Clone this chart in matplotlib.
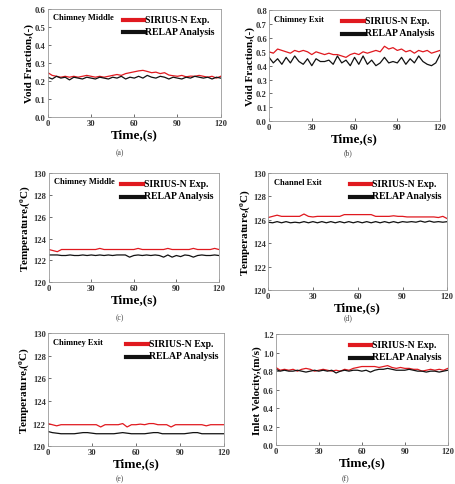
import numpy as np
import matplotlib.pyplot as plt

plt.rcParams['font.family'] = ['Liberation Serif', 'DejaVu Serif']
plt.rcParams['font.weight'] = 'bold'
plt.rcParams['mathtext.fontset'] = 'custom'
plt.rcParams['mathtext.rm'] = 'Liberation Serif:bold'
plt.rcParams['mathtext.it'] = 'Liberation Serif:bold'
plt.rcParams['mathtext.bf'] = 'Liberation Serif:bold'

t = list(range(0, 121, 3))

# (a) chimney middle void fraction
a_exp = [0.245, 0.23, 0.225, 0.22, 0.225, 0.22, 0.225, 0.22, 0.225, 0.23, 0.225, 0.22, 0.225, 0.22,
         0.225, 0.23, 0.235, 0.23, 0.24, 0.245, 0.25, 0.255, 0.258, 0.252, 0.245, 0.248, 0.24, 0.245,
         0.232, 0.228, 0.225, 0.23, 0.222, 0.226, 0.225, 0.23, 0.225, 0.22, 0.225, 0.215, 0.225]
a_rel = [0.22, 0.21, 0.225, 0.215, 0.22, 0.205, 0.22, 0.215, 0.21, 0.22, 0.215, 0.21, 0.22, 0.215,
         0.21, 0.22, 0.215, 0.225, 0.21, 0.22, 0.215, 0.225, 0.215, 0.23, 0.22, 0.215, 0.225, 0.22,
         0.21, 0.22, 0.215, 0.21, 0.22, 0.215, 0.225, 0.22, 0.215, 0.22, 0.21, 0.22, 0.215]
# (b) chimney exit void fraction
b_exp = [0.50, 0.49, 0.52, 0.51, 0.50, 0.49, 0.51, 0.50, 0.51, 0.50, 0.48, 0.50, 0.49, 0.48,
         0.49, 0.48, 0.48, 0.47, 0.46, 0.48, 0.49, 0.48, 0.50, 0.49, 0.50, 0.51, 0.50, 0.54,
         0.52, 0.53, 0.51, 0.52, 0.50, 0.51, 0.49, 0.51, 0.50, 0.51, 0.49, 0.50, 0.51]
b_rel = [0.46, 0.42, 0.45, 0.41, 0.46, 0.42, 0.47, 0.43, 0.41, 0.45, 0.40, 0.45, 0.43, 0.43,
         0.44, 0.41, 0.47, 0.42, 0.44, 0.40, 0.46, 0.41, 0.47, 0.41, 0.44, 0.40, 0.42, 0.46,
         0.42, 0.43, 0.42, 0.46, 0.41, 0.45, 0.42, 0.47, 0.43, 0.41, 0.40, 0.42, 0.48]
# (c) chimney middle temperature
c_exp = [123.0, 122.9, 122.8, 123.0, 123.0, 123.0, 123.0, 123.0, 123.0, 123.0, 123.0, 123.0, 123.1, 123.0,
         123.0, 123.0, 123.0, 123.0, 123.0, 123.0, 123.0, 123.1, 123.0, 123.0, 123.0, 123.0, 123.0, 123.0,
         123.1, 123.0, 123.0, 123.0, 123.0, 123.0, 123.1, 123.0, 123.0, 123.0, 123.0, 123.1, 123.0]
c_rel = [122.5, 122.5, 122.5, 122.45, 122.45, 122.5, 122.45, 122.45, 122.5, 122.45, 122.5, 122.45, 122.5, 122.45,
         122.5, 122.45, 122.5, 122.5, 122.5, 122.3, 122.45, 122.5, 122.45, 122.5, 122.45, 122.5, 122.45, 122.3,
         122.5, 122.3, 122.45, 122.35, 122.5, 122.45, 122.3, 122.45, 122.5, 122.45, 122.45, 122.5, 122.45]
# (d) channel exit temperature
d_exp = [126.2, 126.3, 126.4, 126.3, 126.3, 126.3, 126.3, 126.3, 126.5, 126.3, 126.25, 126.3, 126.3, 126.3,
         126.3, 126.3, 126.3, 126.45, 126.45, 126.45, 126.45, 126.45, 126.45, 126.45, 126.3, 126.3, 126.3, 126.3,
         126.35, 126.3, 126.3, 126.25, 126.25, 126.25, 126.25, 126.25, 126.25, 126.25, 126.2, 126.3, 126.1]
d_rel = [125.8, 125.75, 125.85, 125.75, 125.85, 125.75, 125.8, 125.75, 125.85, 125.75, 125.85, 125.75, 125.85, 125.75,
         125.85, 125.75, 125.85, 125.75, 125.85, 125.75, 125.85, 125.75, 125.85, 125.75, 125.85, 125.75, 125.85, 125.75,
         125.85, 125.75, 125.85, 125.8, 125.85, 125.8, 125.9, 125.8, 125.9, 125.8, 125.85, 125.8, 125.85]
# (e) chimney exit temperature
e_exp = [122.0, 121.9, 121.8, 121.9, 121.9, 121.9, 121.9, 121.9, 121.9, 121.9, 121.9, 121.9, 121.7, 121.9,
         121.9, 121.9, 121.9, 122.0, 121.7, 121.9, 121.9, 121.95, 121.9, 122.0, 122.0, 121.9, 121.9, 121.9,
         121.7, 121.9, 121.9, 121.9, 121.9, 121.9, 121.9, 121.9, 121.8, 121.9, 121.9, 121.9, 121.9]
e_rel = [121.3, 121.2, 121.15, 121.1, 121.1, 121.1, 121.1, 121.15, 121.2, 121.2, 121.15, 121.1, 121.1, 121.1,
         121.1, 121.1, 121.15, 121.2, 121.15, 121.1, 121.1, 121.1, 121.1, 121.15, 121.2, 121.2, 121.1, 121.1,
         121.1, 121.1, 121.1, 121.1, 121.15, 121.2, 121.2, 121.1, 121.1, 121.1, 121.1, 121.1, 121.1]
# (f) inlet velocity
f_exp = [0.84, 0.81, 0.82, 0.81, 0.82, 0.80, 0.82, 0.83, 0.82, 0.80, 0.81, 0.82, 0.81, 0.80,
         0.81, 0.80, 0.82, 0.81, 0.83, 0.84, 0.85, 0.85, 0.85, 0.85, 0.84, 0.85, 0.86, 0.84,
         0.83, 0.84, 0.83, 0.83, 0.82, 0.82, 0.80, 0.81, 0.82, 0.81, 0.82, 0.81, 0.83]
f_rel = [0.82, 0.80, 0.81, 0.80, 0.80, 0.81, 0.80, 0.79, 0.80, 0.81, 0.80, 0.81, 0.80, 0.81,
         0.78, 0.80, 0.81, 0.80, 0.81, 0.81, 0.80, 0.81, 0.79, 0.81, 0.82, 0.82, 0.83, 0.82,
         0.81, 0.81, 0.81, 0.82, 0.81, 0.80, 0.80, 0.79, 0.80, 0.80, 0.79, 0.80, 0.81]

xticks = [0, 30, 60, 90, 120]
temp_lbl = r'Temperature,($^{\mathrm{o}}$C)'

panels = [
    # rect, exp, rel, title, ylabel, ylim, yticks, yfmt, caption, caption xy
    ([0.105, 0.757, 0.379, 0.223], a_exp, a_rel, 'Chimney Middle', 'Void Fraction,(-)',
     (0, 0.6), np.arange(0, 0.61, 0.1), '{:.1f}', '(a)', (0.262, 0.675)),
    ([0.590, 0.748, 0.375, 0.229], b_exp, b_rel, 'Chimney Exit', 'Void Fraction,(-)',
     (0, 0.8), np.arange(0, 0.81, 0.1), '{:.1f}', '(b)', (0.763, 0.675)),
    ([0.107, 0.416, 0.373, 0.225], c_exp, c_rel, 'Chimney Middle', temp_lbl,
     (120, 130), np.arange(120, 131, 2), '{:.0f}', '(c)', (0.262, 0.336)),
    ([0.588, 0.400, 0.393, 0.241], d_exp, d_rel, 'Channel Exit', temp_lbl,
     (120, 130), np.arange(120, 131, 2), '{:.0f}', '(d)', (0.763, 0.336)),
    ([0.105, 0.078, 0.386, 0.233], e_exp, e_rel, 'Chimney Exit', temp_lbl,
     (120, 130), np.arange(120, 131, 2), '{:.0f}', '(e)', (0.262, 0.004)),
    ([0.605, 0.080, 0.377, 0.229], f_exp, f_rel, '', 'Inlet Velocity,(m/s)',
     (0, 1.2), np.arange(0, 1.21, 0.2), '{:.1f}', '(f)', (0.757, 0.004)),
]

fig = plt.figure(figsize=(4.56, 4.85), dpi=100)
for rect, ye, yr, title, ylab, ylim, yt, fmt, cap, cxy in panels:
    ax = fig.add_axes(rect)
    ax.plot(t, ye, color='#e0191f', lw=0.9, label='SIRIUS-N Exp.')
    ax.plot(t, yr, color='#111111', lw=0.9, label='RELAP Analysis')
    ax.set_xlim(0, 120)
    ax.set_ylim(*ylim)
    ax.set_xticks(xticks)
    ax.set_yticks(yt)
    ax.set_yticklabels([fmt.format(v) for v in yt])
    ax.tick_params(direction='in', length=2, width=0.5, labelsize=6.2, pad=1.5, colors='#333333')
    for s in ax.spines.values():
        s.set_color('#999999')
        s.set_linewidth(0.6)
    ax.set_xlabel('Time,(s)', fontsize=9.5, fontweight='bold', labelpad=1)
    ax.set_ylabel(ylab, fontsize=8, fontweight='bold', labelpad=1)
    if title:
        ax.text(0.03, 0.96, title, transform=ax.transAxes, fontsize=6, fontweight='bold',
                va='top', ha='left')
    leg = ax.legend(loc='upper right', fontsize=7, frameon=False, handlelength=2.2,
                    handletextpad=0.1, borderaxespad=0.2, labelspacing=0.35)
    for h in leg.legend_handles:
        h.set_linewidth(3)
        # nudge the thick handle down so it sits on the text centre
        h.set_ydata(np.asarray(h.get_ydata()) - 1.2)
    fig.text(cxy[0], cxy[1], cap, fontsize=5.5, fontweight='normal', color='#444444',
             ha='center', va='bottom')

fig.savefig('out.png', dpi=100)
